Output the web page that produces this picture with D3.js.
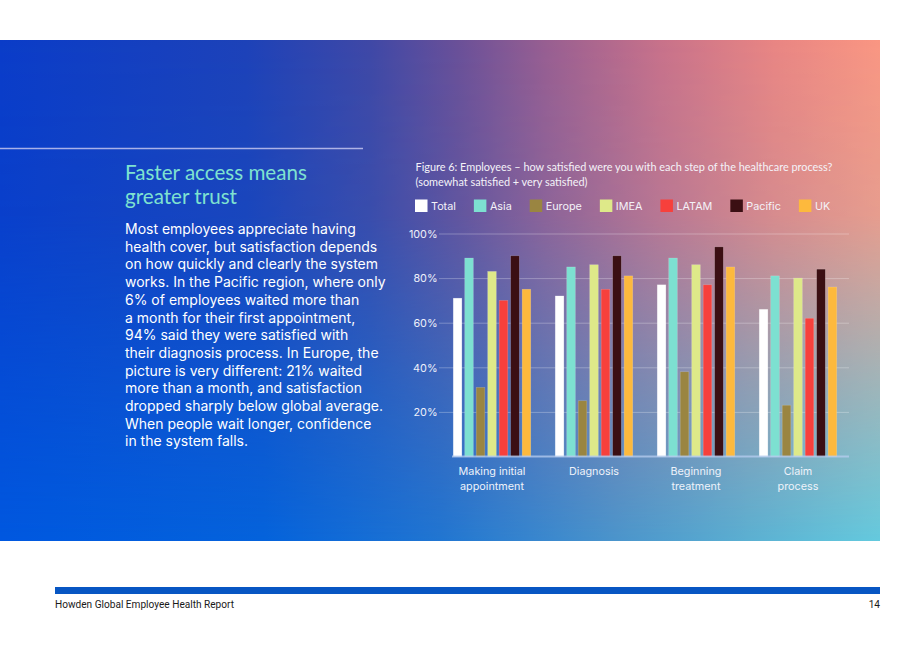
<!DOCTYPE html>
<html>
<head>
<meta charset="utf-8">
<script src="https://cdn.jsdelivr.net/npm/d3@7"></script>
<style>
  html, body { margin: 0; padding: 0; background: #ffffff; }
  svg { display: block; }
</style>
</head>
<body>
<svg id="chart" width="920" height="651"></svg>
<script>
// ---------------- DATA ----------------
const categories = ["Making initial appointment", "Diagnosis", "Beginning treatment", "Claim process"];
const categoryLines = [["Making initial", "appointment"], ["Diagnosis"], ["Beginning", "treatment"], ["Claim", "process"]];
const seriesNames = ["Total", "Asia", "Europe", "IMEA", "LATAM", "Pacific", "UK"];
const totalValues   = [71, 72, 77, 66];
const asiaValues    = [89, 85, 89, 81];
const europeValues  = [31, 25, 38, 23];
const imeaValues    = [83, 86, 86, 80];
const latamValues   = [70, 75, 77, 62];
const pacificValues = [90, 90, 94, 84];
const ukValues      = [75, 81, 85, 76];
const yTicks = [20, 40, 60, 80, 100];
const seriesColors = ["#ffffff", "#7de0d1", "#9a8541", "#dee989", "#f7403c", "#3b0f13", "#fdb93d"];

const chartTitle = ["Figure 6: Employees \u2013 how satisfied were you with each step of the healthcare process?",
                    "(somewhat satisfied + very satisfied)"];
const heading = ["Faster access means", "greater trust"];
const bodyLines = [
  "Most employees appreciate having",
  "health cover, but satisfaction depends",
  "on how quickly and clearly the system",
  "works. In the Pacific region, where only",
  "6% of employees waited more than",
  "a month for their first appointment,",
  "94% said they were satisfied with",
  "their diagnosis process. In Europe, the",
  "picture is very different: 21% waited",
  "more than a month, and satisfaction",
  "dropped sharply below global average.",
  "When people wait longer, confidence",
  "in the system falls."
];
const footerText = "Howden Global Employee Health Report";
const pageNumber = "14";

const allValues = [totalValues, asiaValues, europeValues, imeaValues, latamValues, pacificValues, ukValues];

// ---------------- DRAW ----------------
const svg = d3.select("#chart");
const defs = svg.append("defs");

// background gradients (bilinear: bottom row + masked top row)
const gBottom = defs.append("linearGradient").attr("id", "gBottom").attr("x1", 0).attr("x2", 1).attr("y1", 0).attr("y2", 0);
[[0, "#0058e0"], [0.3, "#0563dc"], [0.5, "#2176d2"], [0.7, "#4b95cc"], [0.85, "#5bb0d2"], [1, "#64cade"]]
  .forEach(([o, c]) => gBottom.append("stop").attr("offset", o).attr("stop-color", c));

const gTop = defs.append("linearGradient").attr("id", "gTop").attr("x1", 0).attr("x2", 1).attr("y1", 0).attr("y2", 0);
[[0, "#0a3cc8"], [0.28, "#1d42b8"], [0.42, "#3f48a6"], [0.52, "#6a5098"], [0.62, "#985e91"], [0.75, "#c8718a"], [0.88, "#e98583"], [1, "#fa9682"]]
  .forEach(([o, c]) => gTop.append("stop").attr("offset", o).attr("stop-color", c));

const gMask = defs.append("linearGradient").attr("id", "gMask").attr("x1", 0).attr("x2", 0).attr("y1", 0).attr("y2", 1);
[[0, 1], [0.35, 0.87], [0.7, 0.38], [1, 0]]
  .forEach(([o, a]) => gMask.append("stop").attr("offset", o).attr("stop-color", "white").attr("stop-opacity", a));
defs.append("mask").attr("id", "topMask").attr("maskContentUnits", "userSpaceOnUse")
  .append("rect").attr("x", 0).attr("y", 40).attr("width", 880).attr("height", 501).attr("fill", "url(#gMask)");

svg.append("rect").attr("x", 0).attr("y", 40).attr("width", 880).attr("height", 501).attr("fill", "url(#gBottom)");
svg.append("rect").attr("x", 0).attr("y", 40).attr("width", 880).attr("height", 501).attr("fill", "url(#gTop)").attr("mask", "url(#topMask)");

// divider
svg.append("line").attr("x1", 0).attr("x2", 363).attr("y1", 148.5).attr("y2", 148.5)
  .attr("stroke", "#c4c6ee").attr("stroke-opacity", 0.85).attr("stroke-width", 1.6);

// heading
svg.append("g").selectAll("text").data(heading).join("text")
  .attr("x", 125).attr("y", (d, i) => 179.5 + i * 24)
  .attr("fill", "#7fe2d0").attr("font-family", "Lato, 'Open Sans', sans-serif")
  .attr("font-size", 20.6).text(d => d);

// body
svg.append("g").selectAll("text").data(bodyLines).join("text")
  .attr("x", 125).attr("y", (d, i) => 234 + i * 17.7)
  .attr("fill", "#ffffff").attr("font-family", "Inter, 'Noto Sans', sans-serif")
  .attr("font-size", 14.0).text(d => d);

// chart title
svg.append("g").selectAll("text").data(chartTitle).join("text")
  .attr("x", 415.5).attr("y", (d, i) => 171 + i * 14.5)
  .attr("fill", "#f4f2f8").attr("font-family", "Lato, 'Open Sans', sans-serif")
  .attr("font-size", 10.9).text(d => d);

// legend
const legend = svg.append("g");
let cursor = 415;
seriesNames.forEach((name, i) => {
  legend.append("rect").attr("x", cursor).attr("y", 199.5).attr("width", 12.5).attr("height", 12.5)
    .attr("fill", seriesColors[i]);
  const t = legend.append("text").attr("x", cursor + 16).attr("y", 210)
    .attr("fill", "#f4f2f8").attr("font-family", "Inter, 'Noto Sans', sans-serif")
    .attr("font-size", 10.8).text(name);
  cursor += 16 + t.node().getComputedTextLength() + 18;
});

// scales
const y = d3.scaleLinear().domain([0, 100]).range([456.5, 233.5]);
const x0 = d3.scaleBand().domain(categories).range([441, 849]).paddingInner(0.24).paddingOuter(0.12);
const x1 = d3.scaleBand().domain(seriesNames).range([0, x0.bandwidth()]).paddingInner(0.25).paddingOuter(0);

// gridlines + y labels
const yAxis = d3.axisLeft(y).tickValues(yTicks).tickFormat(d => d + "%").tickSize(-(849 - 439)).tickPadding(1.5);
const yg = svg.append("g").attr("transform", "translate(439,0)").call(yAxis);
yg.select(".domain").remove();
yg.selectAll(".tick line").attr("stroke", "#ffffff").attr("stroke-opacity", 0.28).attr("stroke-width", 1);
yg.selectAll(".tick text").attr("fill", "#eef0fa").attr("font-family", "Inter, 'Noto Sans', sans-serif")
  .attr("font-size", 10.8).attr("dy", "0.35em");

// bars
const groups = svg.append("g").selectAll("g").data(categories).join("g")
  .attr("transform", d => `translate(${x0(d)},0)`);
groups.selectAll("rect").data((c, ci) => seriesNames.map((s, si) => ({ s, si, v: allValues[si][ci] })))
  .join("rect")
  .attr("x", d => x1(d.s)).attr("width", x1.bandwidth())
  .attr("y", d => y(d.v)).attr("height", d => y(0) - y(d.v))
  .attr("fill", d => seriesColors[d.si])
  .attr("stroke", "#ffffff").attr("stroke-opacity", 0.25).attr("stroke-width", 0.6);

// baseline
svg.append("line").attr("x1", 452).attr("x2", 849).attr("y1", y(0)).attr("y2", y(0))
  .attr("stroke", "#b8cdf0").attr("stroke-opacity", 0.75).attr("stroke-width", 2);

// x labels
const xl = svg.append("g").selectAll("text").data(categories).join("text")
  .attr("text-anchor", "middle").attr("fill", "#eef2fa")
  .attr("font-family", "Inter, 'Noto Sans', sans-serif").attr("font-size", 10.8);
xl.each(function (d, i) {
  d3.select(this).selectAll("tspan").data(categoryLines[i]).join("tspan")
    .attr("x", x0(d) + x0.bandwidth() / 2).attr("y", (l, j) => 475 + j * 14.8).text(l => l);
});

// footer
svg.append("rect").attr("x", 55).attr("y", 587).attr("width", 825).attr("height", 7).attr("fill", "#0756c3");
svg.append("text").attr("x", 55).attr("y", 608).attr("fill", "#1a1a1a")
  .attr("font-family", "'Liberation Sans Narrow', Roboto, sans-serif").attr("font-size", 10.1).text(footerText);
svg.append("text").attr("x", 880).attr("y", 608).attr("text-anchor", "end").attr("fill", "#1a1a1a")
  .attr("font-family", "'Liberation Sans Narrow', Roboto, sans-serif").attr("font-size", 10.1).text(pageNumber);
</script>
</body>
</html>
